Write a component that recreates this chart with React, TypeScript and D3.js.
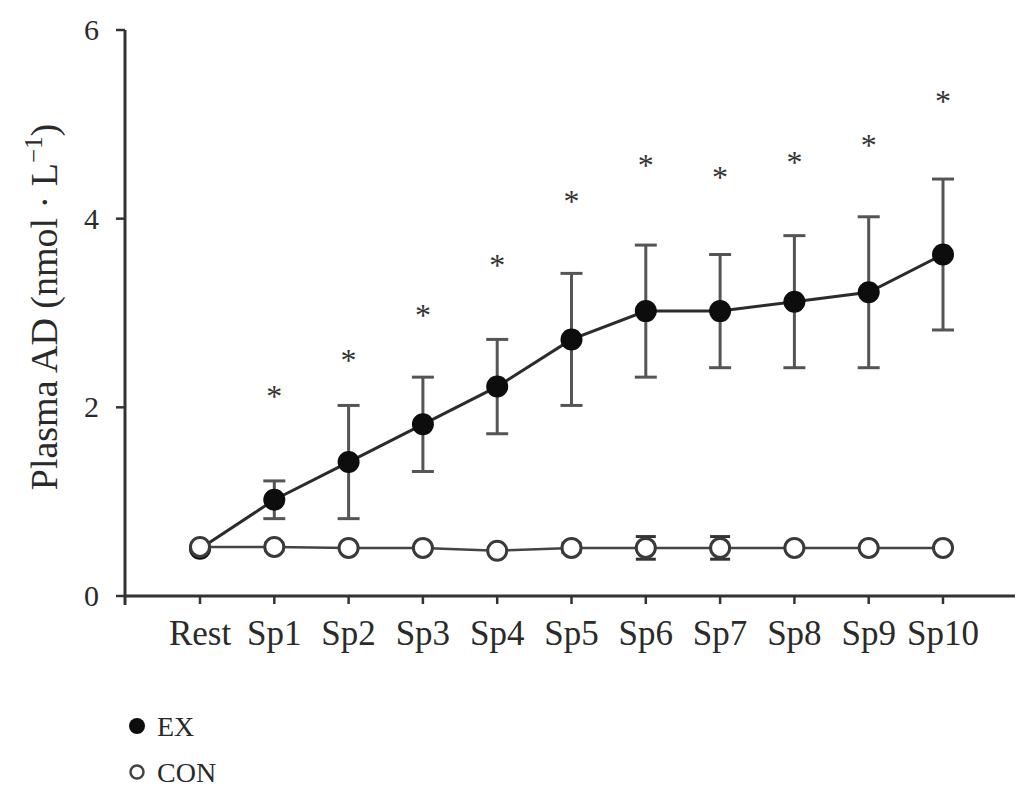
import React, { useEffect, useRef } from 'react';
import * as d3 from 'd3';

const categories = ['Rest', 'Sp1', 'Sp2', 'Sp3', 'Sp4', 'Sp5', 'Sp6', 'Sp7', 'Sp8', 'Sp9', 'Sp10'];
const exMean = [0.5, 1.02, 1.42, 1.82, 2.22, 2.72, 3.02, 3.02, 3.12, 3.22, 3.62];
const exErr = [0, 0.2, 0.6, 0.5, 0.5, 0.7, 0.7, 0.6, 0.7, 0.8, 0.8];
const conMean = [0.52, 0.52, 0.51, 0.51, 0.48, 0.51, 0.51, 0.51, 0.51, 0.51, 0.51];
const conErr = [0.04, 0.04, 0, 0, 0, 0.05, 0.12, 0.12, 0, 0, 0];
// where the * marks sit, in axis units
const starLevel = [null, 2.15, 2.53, 3.01, 3.54, 4.22, 4.6, 4.47, 4.63, 4.81, 5.28];
const yTicks = [0, 2, 4, 6];

const FONT = '"Liberation Serif", "DejaVu Serif", serif';

function App() {
  const chartRef = useRef(null);

  useEffect(() => {
    if (chartRef.current) drawChart();
  }, []);

  const drawChart = () => {
    d3.select(chartRef.current).selectAll('*').remove();

    const width = 1018;
    const height = 791;
    const svg = d3
      .select(chartRef.current)
      .append('svg')
      .attr('width', width)
      .attr('height', height)
      .style('position', 'absolute')
      .style('left', 0)
      .style('top', 0)
      .style('background', '#fff')
      .style('font-family', FONT);

    const x = d3.scalePoint().domain(categories).range([200, 943]);
    const y = d3.scaleLinear().domain([0, 6]).range([596, 30]);
    const axisLeft = 125;
    const axisRight = 1015;

    // axes
    svg.append('line')
      .attr('x1', axisLeft).attr('x2', axisLeft)
      .attr('y1', y(6)).attr('y2', y(0) + 9)
      .attr('stroke', '#333').attr('stroke-width', 3);
    svg.append('line')
      .attr('x1', axisLeft).attr('x2', axisRight)
      .attr('y1', y(0)).attr('y2', y(0))
      .attr('stroke', '#333').attr('stroke-width', 3);

    svg.selectAll('.ytick')
      .data(yTicks)
      .enter()
      .append('line')
      .attr('x1', axisLeft - 9).attr('x2', axisLeft)
      .attr('y1', (d) => y(d)).attr('y2', (d) => y(d))
      .attr('stroke', '#333').attr('stroke-width', 2.5);
    svg.selectAll('.ylab')
      .data(yTicks)
      .enter()
      .append('text')
      .attr('x', 99)
      .attr('y', (d) => y(d) + 10)
      .attr('text-anchor', 'end')
      .attr('font-size', 30)
      .attr('fill', '#2a2a2a')
      .text((d) => d);

    svg.selectAll('.xtick')
      .data(categories)
      .enter()
      .append('line')
      .attr('x1', (d) => x(d)).attr('x2', (d) => x(d))
      .attr('y1', y(0)).attr('y2', y(0) + 8)
      .attr('stroke', '#333').attr('stroke-width', 2.5);
    svg.selectAll('.xlab')
      .data(categories)
      .enter()
      .append('text')
      .attr('x', (d) => x(d))
      .attr('y', 645)
      .attr('text-anchor', 'middle')
      .attr('font-size', 35)
      .attr('fill', '#2a2a2a')
      .text((d) => d);

    // y axis title
    const title = svg.append('text')
      .attr('transform', `translate(57,307) rotate(-90)`)
      .attr('text-anchor', 'middle')
      .attr('font-size', 38)
      .attr('fill', '#2a2a2a');
    title.append('tspan').text('Plasma AD (nmol · L');
    title.append('tspan').attr('font-size', 25).attr('dy', -15).text('−1');
    title.append('tspan').attr('dy', 15).text(')');

    // EX series
    const line = d3.line().x((d) => d[0]).y((d) => d[1]);
    const exPts = categories.map((c, i) => [x(c), y(exMean[i])]);
    svg.append('path')
      .attr('d', line(exPts))
      .attr('fill', 'none')
      .attr('stroke', '#2b2b2b')
      .attr('stroke-width', 3);

    categories.forEach((c, i) => {
      if (!exErr[i]) return;
      const cx = x(c);
      const g = svg.append('g').attr('stroke', '#555').attr('stroke-width', 3);
      g.append('line').attr('x1', cx).attr('x2', cx)
        .attr('y1', y(exMean[i] + exErr[i])).attr('y2', y(exMean[i] - exErr[i]));
      [exMean[i] + exErr[i], exMean[i] - exErr[i]].forEach((v) => {
        g.append('line').attr('x1', cx - 11).attr('x2', cx + 11)
          .attr('y1', y(v)).attr('y2', y(v));
      });
    });

    svg.selectAll('.exdot')
      .data(exPts)
      .enter()
      .append('circle')
      .attr('cx', (d) => d[0]).attr('cy', (d) => d[1])
      .attr('r', 11)
      .attr('fill', '#0d0d0d');

    // asterisks
    categories.forEach((c, i) => {
      if (starLevel[i] == null) return;
      svg.append('text')
        .attr('x', x(c))
        .attr('y', y(starLevel[i]) + 14)
        .attr('text-anchor', 'middle')
        .attr('font-size', 32)
        .attr('fill', '#333')
        .text('*');
    });

    // CON series
    const conPts = categories.map((c, i) => [x(c), y(conMean[i])]);
    svg.append('path')
      .attr('d', line(conPts))
      .attr('fill', 'none')
      .attr('stroke', '#444')
      .attr('stroke-width', 2.5);

    categories.forEach((c, i) => {
      if (!conErr[i]) return;
      const cx = x(c);
      const g = svg.append('g').attr('stroke', '#333').attr('stroke-width', 3);
      [conMean[i] + conErr[i], conMean[i] - conErr[i]].forEach((v) => {
        g.append('line').attr('x1', cx - 10).attr('x2', cx + 10)
          .attr('y1', y(v)).attr('y2', y(v));
      });
    });

    svg.selectAll('.condot')
      .data(conPts)
      .enter()
      .append('circle')
      .attr('cx', (d) => d[0]).attr('cy', (d) => d[1])
      .attr('r', 9.5)
      .attr('fill', '#fff')
      .attr('stroke', '#3a3a3a')
      .attr('stroke-width', 3);

    // legend
    const legend = svg.append('g').attr('font-size', 28).attr('fill', '#2a2a2a');
    legend.append('circle').attr('cx', 137).attr('cy', 726).attr('r', 8).attr('fill', '#0d0d0d');
    legend.append('text').attr('x', 157).attr('y', 736).text('EX');
    legend.append('circle').attr('cx', 137).attr('cy', 772).attr('r', 6.5)
      .attr('fill', '#fff').attr('stroke', '#444').attr('stroke-width', 2.5);
    legend.append('text').attr('x', 157).attr('y', 782).text('CON');
  };

  return <div ref={chartRef} />;
}

export default App;
